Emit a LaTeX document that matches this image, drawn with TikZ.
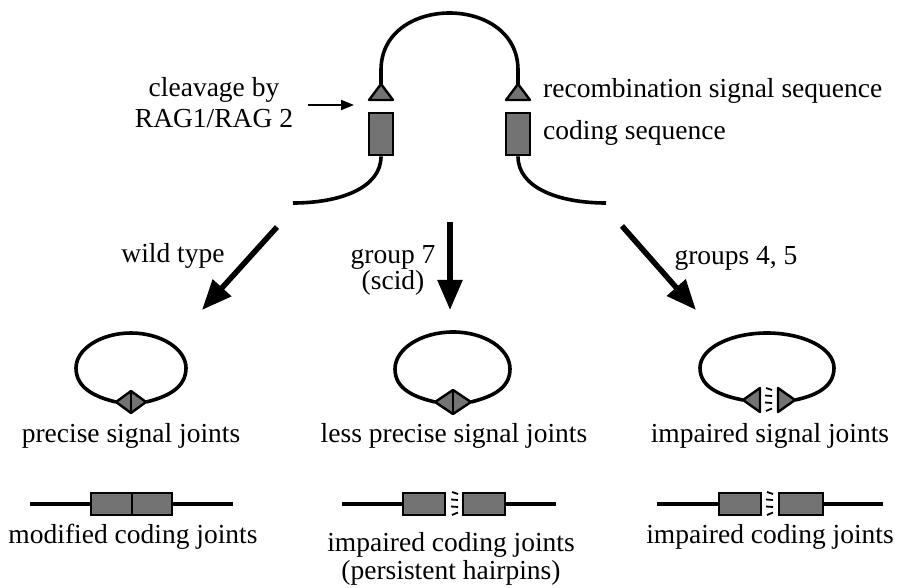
\documentclass[tikz,border=0pt]{standalone}
\usepackage{fontspec}
\setmainfont{Liberation Serif}
\usetikzlibrary{arrows.meta}
\definecolor{segfill}{gray}{0.45}
\tikzset{
  strand/.style={line width=3.6pt},
  codebox/.style={draw, line width=2.8pt, fill=segfill, inner sep=0pt},
  sigtri/.style={draw, line width=2.4pt, fill=segfill, line join=round},
  bigarrow/.style={line width=5.5pt, -{Triangle[length=30pt,width=24pt]}},
  smallarrow/.style={line width=2pt, -{Triangle[length=13pt,width=10pt]}},
  breakmark/.style={line width=1.8pt},
  lbl/.style={font=\fontsize{27.5}{31}\selectfont, inner sep=0pt, anchor=base, align=center},
  lblw/.style={font=\fontsize{27.5}{31}\selectfont, inner sep=0pt, anchor=base west},
}
% broken-end marks between two segments, centred on (#1,#2)
\newcommand{\brokenjoint}[2]{%
  \draw[breakmark] (#1-3,#2-12) -- (#1+3,#2-10);
  \draw[breakmark] (#1-4,#2-4.5) -- (#1+3,#2-4);
  \draw[breakmark] (#1-4,#2+2.5) -- (#1+3,#2+3);
  \draw[breakmark] (#1-3,#2+11) -- (#1+3,#2+8.5);
}
\begin{document}
\begin{tikzpicture}[x=1pt,y=-1pt]
\useasboundingbox (0,0) rectangle (903,588);

% ---------- hairpin with cleaved ends ----------
\coordinate (tl) at (381,84);
\coordinate (tr) at (518,84);
\filldraw[sigtri] (369,100) -- (tl) -- (393,100) -- cycle;
\filldraw[sigtri] (506,100) -- (tr) -- (530,100) -- cycle;
\coordinate (arcL) at (381,70);
\coordinate (arcR) at (518,70);
\draw[strand] (tl) -- (arcL) .. controls (381,-6) and (518,-6) .. (arcR) -- (tr);

\node[codebox, minimum width=24pt, minimum height=42pt] (cdl) at (381,134) {};
\node[codebox, minimum width=24pt, minimum height=42pt] (cdr) at (518,134) {};
\coordinate (endl) at (293,203);
\coordinate (endr) at (606,203);
\draw[strand] (cdl.south) .. controls (381,188) and (340,203) .. (endl);
\draw[strand] (cdr.south) .. controls (518,188) and (559,203) .. (endr);

% the base anchor of a two-line label sits on its last line
\node[lbl] (cleave) at (214,128) {cleavage by\\RAG1/RAG 2};
\coordinate (cleaveA) at (308,105);
\coordinate (cleaveB) at (354,105);
\draw[smallarrow] (cleaveA) -- (cleaveB);
\node[lblw] (rss) at (543,98) {recombination signal sequence};
\node[lblw] (cds) at (543,140) {coding sequence};

% ---------- pathway arrows ----------
\coordinate (a1s) at (277,227); \coordinate (a1e) at (202,310);
\coordinate (a2s) at (450,222); \coordinate (a2e) at (450,310);
\coordinate (a3s) at (622,226); \coordinate (a3e) at (696,310);
\draw[bigarrow] (a1s) -- (a1e);
\draw[bigarrow] (a2s) -- (a2e);
\draw[bigarrow] (a3s) -- (a3e);
\node[lbl] (wt) at (173,263) {wild type};
\node[lbl] (g7) at (393,290) {group 7\\[-5pt](scid)};
\node[lbl] (g45) at (736,265) {groups 4, 5};

% ---------- signal joints ----------
% wild type
\coordinate (d1L) at (116,402); \coordinate (d1T) at (131,391);
\coordinate (d1R) at (146,402); \coordinate (d1B) at (131,413);
\draw[strand] (d1L) .. controls (95,397) and (76,388) .. (76,368)
  .. controls (76,349) and (101,333) .. (131,333)
  .. controls (161,333) and (186,349) .. (186,368)
  .. controls (186,388) and (167,397) .. (d1R);
\filldraw[sigtri] (d1L) -- (d1T) -- (d1R) -- (d1B) -- cycle;
\draw[line width=1.8pt] (d1T) -- (d1B);

% group 7
\coordinate (d2L) at (435,402); \coordinate (d2T) at (453,390);
\coordinate (d2R) at (471,402); \coordinate (d2B) at (453,414);
\draw[strand] (d2L) .. controls (414,397) and (395,389) .. (395,369)
  .. controls (395,349) and (421,332) .. (453,332)
  .. controls (485,332) and (510,349) .. (510,369)
  .. controls (510,389) and (491,397) .. (d2R);
\filldraw[sigtri] (d2L) -- (d2T) -- (d2R) -- (d2B) -- cycle;
\draw[line width=1.8pt] (d2T) -- (d2B);

% groups 4, 5
\coordinate (t3L) at (743,400);
\coordinate (t3R) at (795,400);
\draw[strand] (t3L) .. controls (722,396) and (700,388) .. (700,368)
  .. controls (700,348) and (731,333) .. (767,333)
  .. controls (803,333) and (834,348) .. (834,368)
  .. controls (834,388) and (814,396) .. (t3R);
\filldraw[sigtri] (t3L) -- (760,388) -- (760,412) -- cycle;
\filldraw[sigtri] (t3R) -- (778,388) -- (778,412) -- cycle;
\brokenjoint{769}{400}

\node[lbl] (sj1) at (131,442) {precise signal joints};
\node[lbl] (sj2) at (454,442) {less precise signal joints};
\node[lbl] (sj3) at (770,442) {impaired signal joints};

% ---------- coding joints ----------
% wild type
\coordinate (r1a) at (30,504); \coordinate (r1b) at (233,504);
\node[codebox, minimum width=41pt, minimum height=22pt] (c1a) at (111.5,504) {};
\node[codebox, minimum width=40pt, minimum height=22pt] (c1b) at (152,504) {};
\draw[strand] (r1a) -- (c1a.west);
\draw[strand] (c1b.east) -- (r1b);

% group 7
\coordinate (r2a) at (342,504); \coordinate (r2b) at (556,504);
\node[codebox, minimum width=42pt, minimum height=22pt] (c2a) at (424,504) {};
\node[codebox, minimum width=42pt, minimum height=22pt] (c2b) at (484,504) {};
\draw[strand] (r2a) -- (c2a.west);
\draw[strand] (c2b.east) -- (r2b);
\brokenjoint{455}{504}

% groups 4, 5
\coordinate (r3a) at (657,504); \coordinate (r3b) at (883,504);
\node[codebox, minimum width=42pt, minimum height=22pt] (c3a) at (740,504) {};
\node[codebox, minimum width=44pt, minimum height=22pt] (c3b) at (801,504) {};
\draw[strand] (r3a) -- (c3a.west);
\draw[strand] (c3b.east) -- (r3b);
\brokenjoint{770}{504}

\node[lbl] (cj1) at (133,543) {modified coding joints};
\node[lbl] (cj2) at (451,579) {impaired coding joints\\[-3pt](persistent hairpins)};
\node[lbl] (cj3) at (770,543) {impaired coding joints};
\end{tikzpicture}
\end{document}
